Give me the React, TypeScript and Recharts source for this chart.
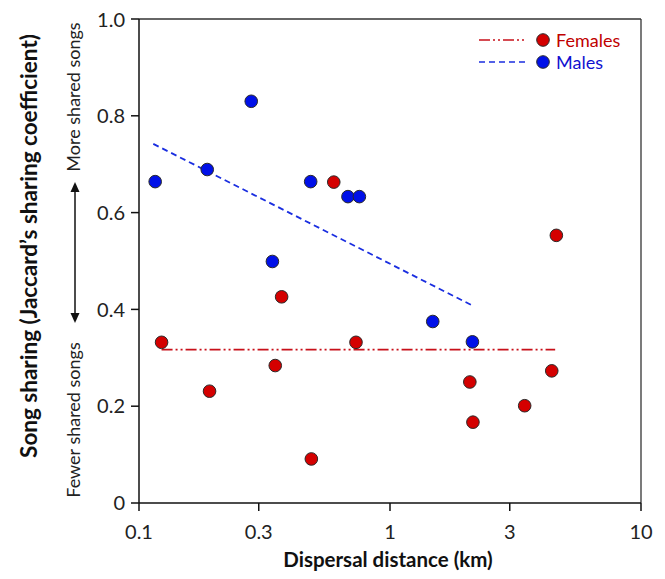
import React from "react";
import {
  ComposedChart,
  Scatter,
  XAxis,
  YAxis,
  ReferenceLine,
} from "recharts";

// dispersal distance (km) and Jaccard sharing coefficient
const femaleX = [0.123, 0.191, 0.37, 0.349, 0.486, 0.597, 0.732, 2.08, 2.14, 3.44, 4.41, 4.6];
const femaleY = [0.332, 0.231, 0.426, 0.284, 0.091, 0.663, 0.332, 0.25, 0.167, 0.201, 0.273, 0.553];
const maleX = [0.116, 0.187, 0.28, 0.483, 0.34, 0.68, 0.755, 1.48, 2.13];
const maleY = [0.664, 0.689, 0.83, 0.664, 0.499, 0.633, 0.633, 0.375, 0.333];

// fitted lines (end points)
const femaleFit = [
  { x: 0.123, y: 0.317 },
  { x: 4.55, y: 0.317 },
];
const maleFit = [
  { x: 0.114, y: 0.742 },
  { x: 2.13, y: 0.408 },
];

const xTicks = [0.1, 0.3, 1, 3, 10];
const yTicks = [0, 0.2, 0.4, 0.6, 0.8, 1.0];

const femaleData = femaleX.map((x, i) => ({ x, y: femaleY[i] }));
const maleData = maleX.map((x, i) => ({ x, y: maleY[i] }));

const FONT = "Lato, 'Open Sans', sans-serif";
const RED = "#d40000";
const RED_LINE = "#c8101a";
const BLUE = "#0010e8";
const BLUE_LINE = "#1a2ee0";

const dot = (fill: string) => (props: any) => (
  <circle cx={props.cx} cy={props.cy} r={6.3} fill={fill} stroke="#2a2a2a" strokeWidth={1} />
);

export default function App() {
  return (
    <div style={{ position: "relative", width: 650, height: 571, fontFamily: FONT }}>
      <ComposedChart
        width={650}
        height={571}
        margin={{ top: 11, right: 17, bottom: 0, left: 71 }}
      >
        <XAxis
          type="number"
          dataKey="x"
          scale="log"
          domain={[0.1, 10]}
          ticks={xTicks}
          allowDataOverflow
          height={76}
          tickSize={8}
          tickMargin={14}
          tickFormatter={(v) => String(v)}
          stroke="#111"
          strokeWidth={1.5}
          tick={{ fill: "#222", fontSize: 20, fontFamily: FONT }}
        />
        <YAxis
          type="number"
          dataKey="y"
          domain={[0, 1]}
          ticks={yTicks}
          width={60}
          tickSize={8}
          tickMargin={6}
          tickFormatter={(v) => (v === 0 ? "0" : v.toFixed(1))}
          stroke="#111"
          strokeWidth={1.5}
          tick={{ fill: "#222", fontSize: 20, fontFamily: FONT }}
        />
        <ReferenceLine y={1} stroke="#333" strokeWidth={1.3} />
        <ReferenceLine x={10} stroke="#333" strokeWidth={1.3} />
        <ReferenceLine
          segment={femaleFit}
          stroke={RED_LINE}
          strokeWidth={1.8}
          strokeDasharray="11 3 2 3 2 3"
        />
        <ReferenceLine
          segment={maleFit}
          stroke={BLUE_LINE}
          strokeWidth={1.8}
          strokeDasharray="6 4"
        />
        <Scatter data={maleData} shape={dot(BLUE)} isAnimationActive={false} />
        <Scatter data={femaleData} shape={dot(RED)} isAnimationActive={false} />
      </ComposedChart>

      <svg
        width={650}
        height={571}
        style={{ position: "absolute", left: 0, top: 0, pointerEvents: "none" }}
      >
        <text
          transform="translate(20,238) rotate(-90)"
          textAnchor="middle"
          dominantBaseline="central"
          fontSize={22.5}
          fontWeight="bold"
          fill="#111"
          fontFamily={FONT}
        >
          Song sharing (Jaccard’s sharing coefficient)
        </text>
        <text
          transform="translate(65,89) rotate(-90)"
          textAnchor="middle"
          dominantBaseline="central"
          fontSize={18}
          fill="#222"
          fontFamily={FONT}
        >
          More shared songs
        </text>
        <text
          transform="translate(65,412) rotate(-90)"
          textAnchor="middle"
          dominantBaseline="central"
          fontSize={18}
          fill="#222"
          fontFamily={FONT}
        >
          Fewer shared songs
        </text>
        <line x1={67} y1={182} x2={67} y2={307} stroke="#111" strokeWidth={1.5} />
        <polygon points="67,174 62.5,184 71.5,184" fill="#111" />
        <polygon points="67,315 62.5,305 71.5,305" fill="#111" />
        <text
          x={380}
          y={559}
          textAnchor="middle"
          fontSize={20.5}
          fontWeight="bold"
          fill="#111"
          fontFamily={FONT}
        >
          Dispersal distance (km)
        </text>

        {/* legend */}
        <line x1={471} y1={32} x2={519} y2={32} stroke={RED_LINE} strokeWidth={1.6} strokeDasharray="11 3 2 3 2 3" />
        <circle cx={535} cy={32} r={6.3} fill={RED} stroke="#2a2a2a" strokeWidth={1} />
        <text x={548} y={38.5} fontSize={18} fill="#c00000" fontFamily={FONT}>
          Females
        </text>
        <line x1={471} y1={54} x2={519} y2={54} stroke={BLUE_LINE} strokeWidth={1.6} strokeDasharray="6 4" />
        <circle cx={535} cy={54} r={6.3} fill={BLUE} stroke="#2a2a2a" strokeWidth={1} />
        <text x={548} y={60.5} fontSize={18} fill="#1010d0" fontFamily={FONT}>
          Males
        </text>
      </svg>
    </div>
  );
}
